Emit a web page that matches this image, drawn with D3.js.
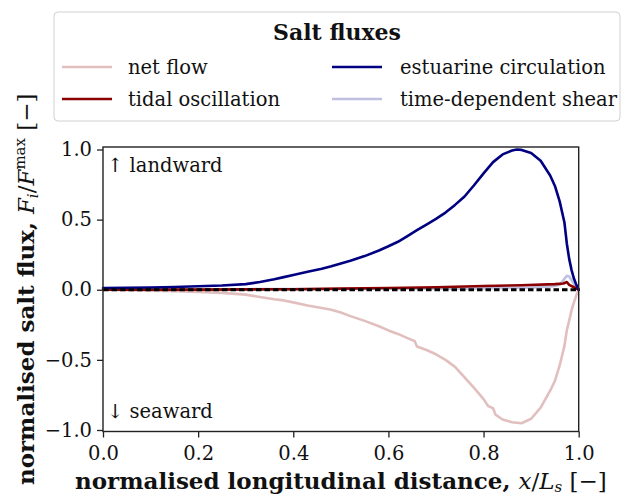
<!DOCTYPE html>
<html>
<head>
<meta charset="utf-8">
<script src="https://cdn.jsdelivr.net/npm/d3@7"></script>
<style>
  html, body { margin: 0; padding: 0; background: #fff; }
  svg { display: block; }
  text { font-family: "DejaVu Serif", serif; fill: #111; }
</style>
</head>
<body>
<svg id="chart" width="627" height="496"></svg>
<script>
// Normalised salt flux components along the estuary, x / L_s
const estuarineX = [0, 0.05, 0.1, 0.15, 0.2, 0.25, 0.3, 0.33, 0.36, 0.38, 0.4, 0.43, 0.46, 0.48, 0.5, 0.52, 0.55, 0.58, 0.6, 0.62, 0.64, 0.66, 0.68, 0.7, 0.72, 0.74, 0.76, 0.78, 0.8, 0.82, 0.84, 0.86, 0.87, 0.88, 0.9, 0.92, 0.94, 0.95, 0.96, 0.97, 0.975, 0.98, 0.985, 0.99, 0.995, 1.0];
const estuarineY = [0.012, 0.014, 0.016, 0.02, 0.025, 0.03, 0.04, 0.055, 0.075, 0.09, 0.105, 0.128, 0.15, 0.168, 0.188, 0.207, 0.24, 0.28, 0.31, 0.342, 0.383, 0.425, 0.465, 0.505, 0.55, 0.605, 0.665, 0.745, 0.83, 0.91, 0.965, 0.993, 1.0, 0.997, 0.975, 0.92, 0.815, 0.74, 0.63, 0.48, 0.33, 0.22, 0.14, 0.08, 0.035, 0];

const netFlowX = [0, 0.05, 0.1, 0.15, 0.2, 0.25, 0.3, 0.33, 0.36, 0.38, 0.4, 0.43, 0.46, 0.48, 0.5, 0.52, 0.55, 0.58, 0.6, 0.62, 0.64, 0.655, 0.66, 0.68, 0.7, 0.72, 0.74, 0.76, 0.78, 0.8, 0.81, 0.82, 0.825, 0.84, 0.86, 0.88, 0.9, 0.92, 0.94, 0.95, 0.96, 0.97, 0.975, 0.98, 0.985, 0.99, 0.995, 1.0];
const netFlowY = [0, -0.003, -0.006, -0.01, -0.015, -0.022, -0.035, -0.052, -0.068, -0.076, -0.09, -0.112, -0.13, -0.142, -0.162, -0.188, -0.222, -0.26, -0.29, -0.315, -0.345, -0.365, -0.405, -0.43, -0.46, -0.5, -0.55, -0.625, -0.7, -0.78, -0.83, -0.845, -0.89, -0.925, -0.945, -0.952, -0.92, -0.84, -0.72, -0.65, -0.54, -0.4, -0.29, -0.22, -0.146, -0.09, -0.04, 0];

const tidalX = [0, 0.2, 0.4, 0.5, 0.6, 0.7, 0.8, 0.88, 0.95, 0.968, 0.975, 0.98, 0.99, 1.0];
const tidalY = [0, 0.001, 0.004, 0.008, 0.012, 0.018, 0.027, 0.032, 0.04, 0.045, 0.055, 0.035, 0.018, 0];

const shearX = [0, 0.3, 0.5, 0.7, 0.8, 0.9, 0.946, 0.96, 0.968, 0.975, 0.98, 0.985, 0.99, 1.0];
const shearY = [0.003, 0.004, 0.005, 0.008, 0.01, 0.015, 0.025, 0.035, 0.07, 0.1, 0.095, 0.07, 0.04, 0];

const xTicks = [0, 0.2, 0.4, 0.6, 0.8, 1.0];
const yTicks = [-1.0, -0.5, 0.0, 0.5, 1.0];

const legendLabels = ["net flow", "tidal oscillation", "estuarine circulation", "time-dependent shear"];
const seriesColors = ["#e2bfbf", "#8b0000", "#000080", "#bfbfdf"];

const svg = d3.select("#chart");

const plotLeft = 103, plotRight = 578.7, plotTop = 147, plotBottom = 431.5;
const x = d3.scaleLinear().domain([0, 1]).range([plotLeft, plotRight]);
const y = d3.scaleLinear().domain([-1.0107, 1.0178]).range([plotBottom, plotTop]);

const fmt = v => d3.format(".1f")(v).replace("-", "\u2212");

// axes
const xAxis = svg.append("g")
  .attr("transform", `translate(0,${plotBottom})`)
  .call(d3.axisBottom(x).tickValues(xTicks).tickFormat(fmt).tickSize(6).tickPadding(6));
const yAxis = svg.append("g")
  .attr("transform", `translate(${plotLeft},0)`)
  .call(d3.axisLeft(y).tickValues(yTicks).tickFormat(fmt).tickSize(6).tickPadding(5));

[xAxis, yAxis].forEach(g => {
  g.select(".domain").remove();
  g.selectAll(".tick line").attr("stroke", "#222").attr("stroke-width", 1.3);
  g.selectAll(".tick text")
    .attr("font-family", "DejaVu Serif, serif")
    .attr("font-size", 19.5)
    .attr("fill", "#111");
});
xAxis.selectAll(".tick text").attr("dy", "0.85em");

// series lines
const line = d3.line().x(d => x(d[0])).y(d => y(d[1]));
const zip = (a, b) => a.map((v, i) => [v, b[i]]);

const series = [
  { xs: shearX, ys: shearY, color: seriesColors[3] },
  { xs: netFlowX, ys: netFlowY, color: seriesColors[0] },
  { xs: tidalX, ys: tidalY, color: seriesColors[1] },
  { xs: estuarineX, ys: estuarineY, color: seriesColors[2] }
];

const plot = svg.append("g");
series.forEach(s => {
  plot.append("path")
    .datum(zip(s.xs, s.ys))
    .attr("d", line)
    .attr("fill", "none")
    .attr("stroke", s.color)
    .attr("stroke-width", 2.6)
    .attr("stroke-linejoin", "round")
    .attr("stroke-linecap", "round");
});

// zero reference
plot.append("line")
  .attr("x1", x(0)).attr("x2", x(1))
  .attr("y1", y(0)).attr("y2", y(0))
  .attr("stroke", "#000")
  .attr("stroke-width", 2.8)
  .attr("stroke-dasharray", "5.5,3");

// frame
svg.append("rect")
  .attr("x", plotLeft).attr("y", plotTop)
  .attr("width", plotRight - plotLeft).attr("height", plotBottom - plotTop)
  .attr("fill", "none")
  .attr("stroke", "#222")
  .attr("stroke-width", 1.4);

// direction annotations
svg.append("text").attr("x", 107).attr("y", 172).attr("font-size", 19.5).text("\u2191 landward");
svg.append("text").attr("x", 107).attr("y", 418).attr("font-size", 19.5).text("\u2193 seaward");

// axis labels
const xl = svg.append("text")
  .attr("x", (plotLeft + plotRight) / 2).attr("y", 489)
  .attr("text-anchor", "middle")
  .attr("font-size", 23);
xl.append("tspan").attr("font-weight", "bold").text("normalised longitudinal distance, ");
xl.append("tspan").attr("font-style", "italic").text("x");
xl.append("tspan").text("/");
xl.append("tspan").attr("font-style", "italic").text("L");
xl.append("tspan").attr("font-style", "italic").attr("font-size", 15).attr("dy", 3).text("s");
xl.append("tspan").attr("dy", -3).text(" [\u2212]");

const yl = svg.append("text")
  .attr("transform", `translate(34,${(plotTop + plotBottom) / 2}) rotate(-90)`)
  .attr("text-anchor", "middle")
  .attr("font-size", 23);
yl.append("tspan").attr("font-weight", "bold").text("normalised salt flux, ");
yl.append("tspan").attr("font-style", "italic").text("F");
yl.append("tspan").attr("font-style", "italic").attr("font-size", 15).attr("dy", 4).text("i");
yl.append("tspan").attr("dy", -4).text("/");
yl.append("tspan").attr("font-style", "italic").text("F");
yl.append("tspan").attr("font-size", 15).attr("dy", -9).text("max");
yl.append("tspan").attr("dy", 9).text(" [\u2212]");

// legend
const lg = svg.append("g");
lg.append("rect")
  .attr("x", 54).attr("y", 12).attr("width", 566).attr("height", 109)
  .attr("rx", 4)
  .attr("fill", "#fff").attr("fill-opacity", 0.8)
  .attr("stroke", "#d0d0d0").attr("stroke-width", 1);
lg.append("text")
  .attr("x", 337).attr("y", 40)
  .attr("text-anchor", "middle")
  .attr("font-size", 22).attr("font-weight", "bold")
  .text("Salt fluxes");

const legendPos = [
  { lx: 62, tx: 128, y: 67 },
  { lx: 62, tx: 128, y: 99 },
  { lx: 332, tx: 400, y: 67 },
  { lx: 332, tx: 400, y: 99 }
];
legendLabels.forEach((lab, i) => {
  const p = legendPos[i];
  lg.append("line")
    .attr("x1", p.lx).attr("x2", p.lx + 50)
    .attr("y1", p.y).attr("y2", p.y)
    .attr("stroke", seriesColors[i]).attr("stroke-width", 2.6);
  lg.append("text")
    .attr("x", p.tx).attr("y", p.y + 7)
    .attr("font-size", 19.5)
    .text(lab);
});
</script>
</body>
</html>
